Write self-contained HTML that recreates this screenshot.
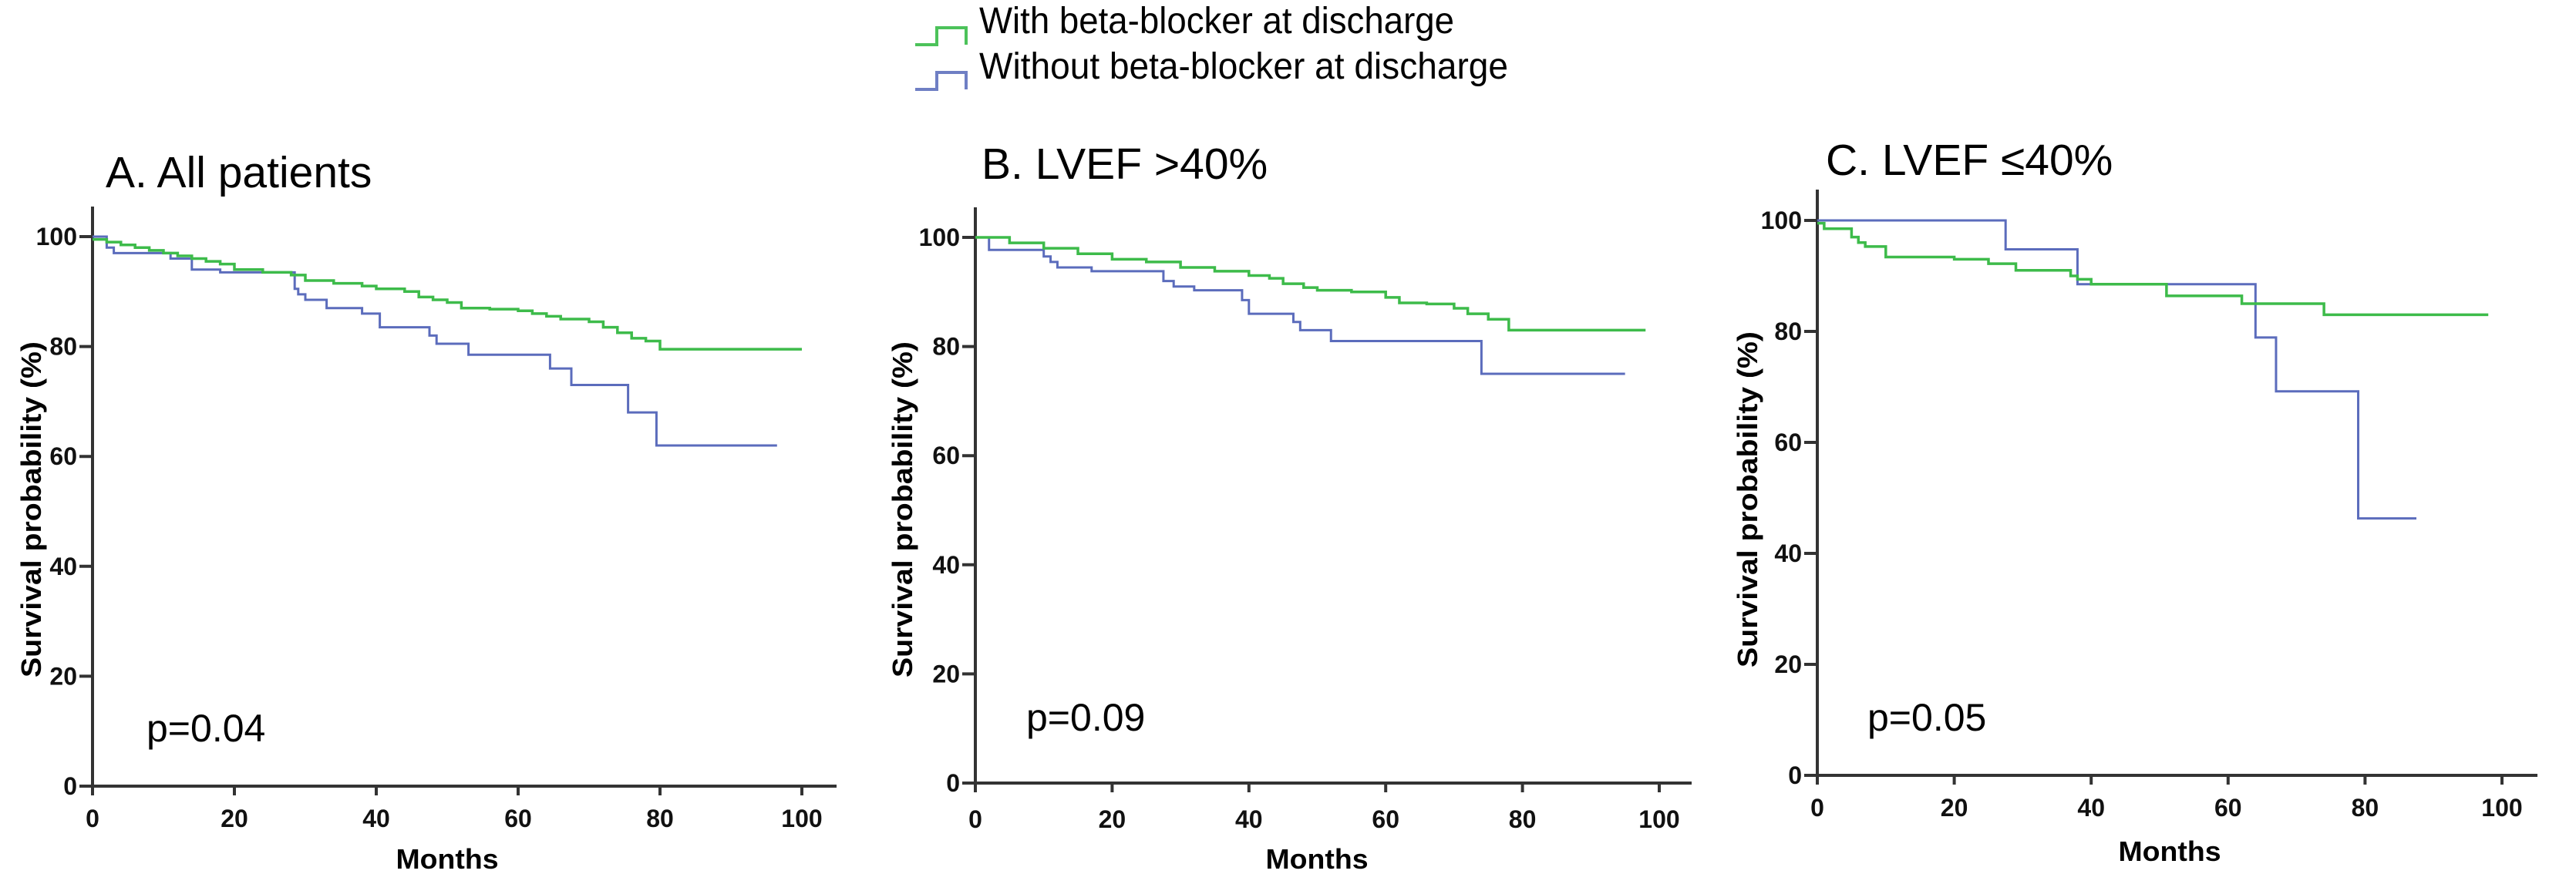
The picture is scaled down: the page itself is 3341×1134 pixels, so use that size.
<!DOCTYPE html>
<html><head><meta charset="utf-8"><style>
html,body{margin:0;padding:0;background:#fff;}
svg{display:block;}
text{font-family:"Liberation Sans",sans-serif;}
.tick{font-size:32px;font-weight:bold;fill:#111;}
.ttl{font-size:57px;fill:#000;}
.pv{font-size:50px;fill:#000;}
.ax{font-size:36px;font-weight:bold;fill:#000;}
</style></head><body>
<svg id="fig" width="3341" height="1134" viewBox="0 0 3341 1134" xmlns="http://www.w3.org/2000/svg">
<g>
<path d="M1187 58 H1215 V36 H1253 V58" fill="none" stroke="#4cc25a" stroke-width="4"/>
<text x="1270" y="43" font-size="48" textLength="616" lengthAdjust="spacingAndGlyphs">With beta-blocker at discharge</text>
<path d="M1187 116 H1215 V94 H1253 V116" fill="none" stroke="#6f7fc4" stroke-width="4"/>
<text x="1270" y="102" font-size="48" textLength="686" lengthAdjust="spacingAndGlyphs">Without beta-blocker at discharge</text>
</g>
</svg>
<script>
// Panel A
const aWithT=[0,2,4,6,8,10,12,14,16,18,20,24,28,30,34,38,40,44,46,48,50,52,56,60,62,64,66,70,72,74,76,78,80,100];
const aWithS=[99.5,99,98.5,98,97.5,97,96.5,96,95.5,95,94,93.5,93,92,91.5,91,90.5,90,89,88.5,88,87,86.8,86.5,86,85.5,85,84.5,83.5,82.5,81.5,81,79.5,79.5];
const aWoT=[0,2,3,11,14,18,28.5,29,30,33,38,40.5,47.5,48.5,53,64.5,67.5,75.5,79.5,96.5];
const aWoS=[100,98,97,96,94,93.5,90.5,89.5,88.5,87,86,83.5,82,80.5,78.5,76,73,68,62,62];
// Panel B
const bWithT=[0,5,10,15,20,25,30,35,40,43,45,48,50,55,60,62,66,70,72,75,78,98];
const bWithS=[100,99,98,97,96,95.5,94.5,93.8,93,92.5,91.5,90.8,90.3,90,89,88,87.8,87,86,85,83,83];
const bWoT=[0,2,10,11,12,17,27.5,29,32,39,40,46.5,47.5,52,74,95];
const bWoS=[100,97.7,96.5,95.5,94.5,93.8,92,91,90.3,88.5,86,84.5,83,81,75,75];
// Panel C
const cWithT=[0,1,5,6,7,10,20,25,29,37,38,40,51,62,74,98];
const cWithS=[99.5,98.5,97,96,95.3,93.4,93,92.2,91,90,89.4,88.5,86.4,85,83,83];
const cWoT=[0,27.5,38,64,67,79,87.5];
const cWoS=[100,94.8,88.5,78.9,69.2,46.3,46.3];
const xTicks=[0,20,40,60,80,100];
const yTicks=[0,20,40,60,80,100];

const panels=[
 {id:'a',title:'A. All patients',p:'p=0.04',x0:120,x1:1040,y100:307,y0:1020,top:268,right:1085,tx:137,ty:243,px:190,py:962,tickY:1062,mx:580,my:1127,lx:40,ly:661,wT:aWithT,wS:aWithS,oT:aWoT,oS:aWoS},
 {id:'b',title:'B. LVEF >40%',p:'p=0.09',x0:1265,x1:2152,y100:308,y0:1016,top:269,right:2194,tx:1273,ty:232,px:1331,py:948,tickY:1063,mx:1708,my:1127,lx:1170,ly:661,wT:bWithT,wS:bWithS,oT:bWoT,oS:bWoS},
 {id:'c',title:'C. LVEF \u226440%',p:'p=0.05',x0:2357,x1:3245,y100:286,y0:1006,top:246,right:3291,tx:2368,ty:227,px:2422,py:948,tickY:1048,mx:2814,my:1117,lx:2266,ly:648,wT:cWithT,wS:cWithS,oT:cWoT,oS:cWoS}
];
const NS='http://www.w3.org/2000/svg';
const svg=document.getElementById('fig');
function mk(tag,attrs,parent){const e=document.createElementNS(NS,tag);for(const k in attrs)e.setAttribute(k,attrs[k]);parent.appendChild(e);return e;}
function stepPath(T,S,sx,sy){let d='M'+sx(T[0])+' '+sy(S[0]);for(let i=1;i<T.length;i++){d+=' H'+sx(T[i])+' V'+sy(S[i]);}return d;}
panels.forEach(P=>{
 const sx=v=>P.x0+(P.x1-P.x0)*v/100;
 const sy=v=>P.y0+(P.y100-P.y0)*v/100;
 const g=mk('g',{},svg);
 
 
 const t=mk('text',{x:P.tx,y:P.ty,class:'ttl'},g);t.textContent=P.title;
 
 
 const ya=mk('line',{x1:P.x0,y1:P.top,x2:P.x0,y2:P.y0+12,stroke:'#333','stroke-width':4},g);
 
 
 const xa=mk('line',{x1:P.x0-17,y1:P.y0,x2:P.right,y2:P.y0,stroke:'#333','stroke-width':4},g);
 
 
 yTicks.forEach(v=>{
  mk('line',{x1:P.x0-17,y1:sy(v),x2:P.x0,y2:sy(v),stroke:'#333','stroke-width':4},g);
  const l=mk('text',{x:P.x0-20,y:sy(v)+11,class:'tick','text-anchor':'end'},g);l.textContent=v;
  
  
 });
 xTicks.forEach(v=>{
  mk('line',{x1:sx(v),y1:P.y0,x2:sx(v),y2:P.y0+12,stroke:'#333','stroke-width':4},g);
  const l=mk('text',{x:sx(v),y:P.tickY+11,class:'tick','text-anchor':'middle'},g);l.textContent=v;
  
  
 });
 const mt=mk('text',{x:P.mx,y:P.my,class:'ax','text-anchor':'middle',textLength:133,lengthAdjust:'spacingAndGlyphs'},g);mt.textContent='Months';
 
 
 const yt=mk('text',{x:0,y:0,class:'ax','text-anchor':'middle',textLength:436,lengthAdjust:'spacingAndGlyphs',transform:'translate('+(P.lx+13)+','+P.ly+') rotate(-90)'},g);yt.textContent='Survival probability (%)';
 
 
 const pv=mk('text',{x:P.px,y:P.py,class:'pv'},g);pv.textContent=P.p;
 
 
 const wo=mk('path',{d:stepPath(P.oT,P.oS,sx,sy),fill:'none',stroke:'#5b6cbc','stroke-width':3},g);
 
 
 const w=mk('path',{d:stepPath(P.wT,P.wS,sx,sy),fill:'none',stroke:'#3dbb4a','stroke-width':3.5},g);
 
 
});
</script>
</body></html>
